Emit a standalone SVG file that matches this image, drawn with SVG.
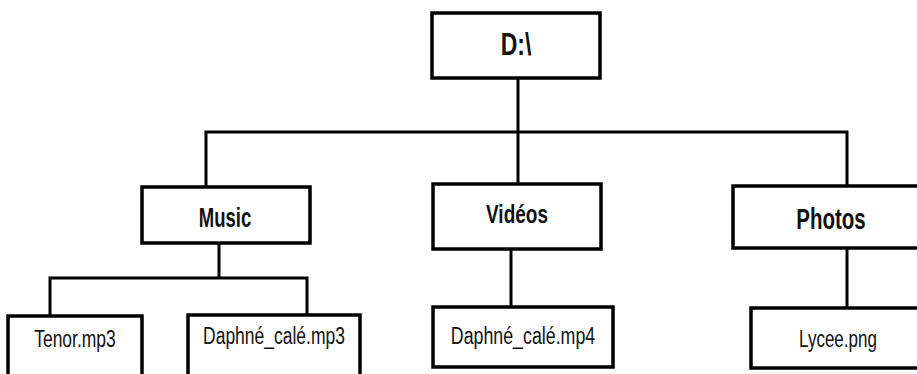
<svg xmlns="http://www.w3.org/2000/svg" width="917" height="374" viewBox="0 0 917 374">
  <style>
    .box { fill: #ffffff; stroke: #000000; stroke-width: 3.5; }
    .link { fill: none; stroke: #000000; stroke-width: 3; stroke-linejoin: miter; stroke-linecap: square; }
    .lbl { font-family: "Liberation Sans", Arial, sans-serif; fill: #111111; text-anchor: middle; }
    .b { font-weight: bold; }
  </style>
  <rect width="917" height="374" fill="#ffffff"/>

  <!-- tree connectors -->
  <g id="connectors">
    <path class="link" d="M518 78 V132 M206 187 V132 H847 V187 M518 132 V184"/>
    <path class="link" d="M219 243 V278 M50 316 V278 H307 V315"/>
    <path class="link" d="M511 249 V307"/>
    <path class="link" d="M847 248 V308"/>
  </g>

  <!-- drive root -->
  <g id="root">
    <rect class="box" x="432" y="13" width="168" height="65"/>
    <text class="lbl b" font-size="23" transform="translate(516 55) scale(1 1.35)">D:\</text>
  </g>

  <!-- folders -->
  <g id="music">
    <rect class="box" x="142" y="187" width="168" height="56"/>
    <text class="lbl b" font-size="18.5" transform="translate(225 227) scale(1 1.45)">Music</text>
  </g>
  <g id="videos">
    <rect class="box" x="433" y="184" width="168" height="65"/>
    <text class="lbl b" font-size="19" transform="translate(517 223) scale(1 1.4)">Vidéos</text>
  </g>
  <g id="photos">
    <rect class="box" x="733" y="186" width="196" height="62"/>
    <text class="lbl b" font-size="20.5" transform="translate(831 229) scale(1 1.42)">Photos</text>
  </g>

  <!-- files -->
  <g id="tenor">
    <rect class="box" x="8" y="316" width="134" height="70"/>
    <text class="lbl" font-size="17.5" transform="translate(75 347) scale(1 1.35)">Tenor.mp3</text>
  </g>
  <g id="daphne-mp3">
    <rect class="box" x="188" y="315" width="172" height="70"/>
    <text class="lbl" font-size="17.5" transform="translate(274 344) scale(1 1.35)">Daphné_calé.mp3</text>
  </g>
  <g id="daphne-mp4">
    <rect class="box" x="433" y="307" width="180" height="60"/>
    <text class="lbl" font-size="17.8" transform="translate(523 344) scale(1 1.35)">Daphné_calé.mp4</text>
  </g>
  <g id="lycee">
    <rect class="box" x="751" y="308" width="174" height="60"/>
    <text class="lbl" font-size="17" transform="translate(838 347) scale(1 1.42)">Lycee.png</text>
  </g>
</svg>
